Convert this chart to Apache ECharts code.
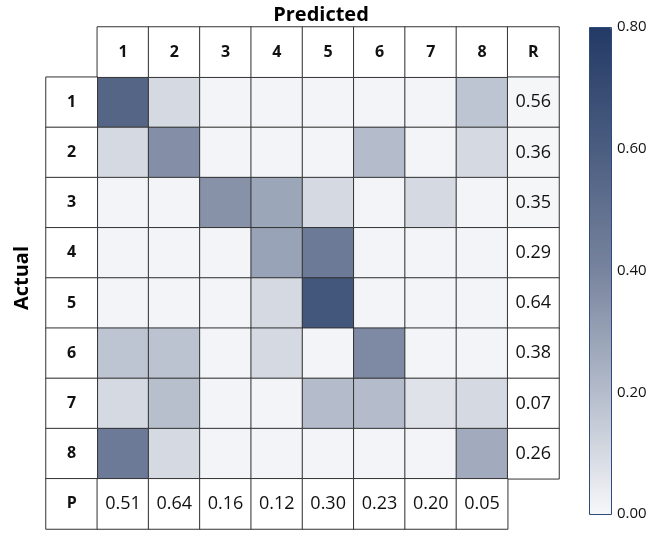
<!DOCTYPE html>
<html>
<head>
<meta charset="utf-8">
<script src="https://cdn.jsdelivr.net/npm/echarts@6/dist/echarts.min.js"></script>
<style>
  html, body { margin: 0; padding: 0; background: #fff; }
  #chart { width: 666px; height: 560px; }
</style>
</head>
<body>
<div id="chart"></div>
<script>
// classes on both axes
const classes = ['1', '2', '3', '4', '5', '6', '7', '8']
// confusion matrix, rows = actual, cols = predicted (read from cell shades)
const matrix = [
  [0.56, 0.10, 0.01, 0.01, 0.01, 0.01, 0.01, 0.17],
  [0.10, 0.36, 0.01, 0.01, 0.01, 0.20, 0.01, 0.10],
  [0.01, 0.01, 0.35, 0.28, 0.10, 0.01, 0.10, 0.01],
  [0.01, 0.01, 0.01, 0.29, 0.45, 0.01, 0.01, 0.01],
  [0.01, 0.01, 0.01, 0.10, 0.64, 0.01, 0.01, 0.01],
  [0.17, 0.18, 0.01, 0.10, 0.01, 0.38, 0.01, 0.01],
  [0.10, 0.19, 0.01, 0.01, 0.20, 0.20, 0.07, 0.10],
  [0.45, 0.10, 0.01, 0.01, 0.01, 0.01, 0.01, 0.26],
]
const recall = [0.56, 0.36, 0.35, 0.29, 0.64, 0.38, 0.07, 0.26]
const precision = [0.51, 0.64, 0.16, 0.12, 0.30, 0.23, 0.20, 0.05]
const scaleTicks = [0, 0.2, 0.4, 0.6, 0.8]

const FONT = 'Open Sans'
const cols = ['', ...classes, 'R']
const rows = ['', ...classes, 'P']

const cellData = []
matrix.forEach((row, r) => row.forEach((v, c) => cellData.push([c + 1, r + 1, v])))

const headData = []
classes.forEach((k, i) => {
  headData.push({ value: [i + 1, 0, 0], name: k })
  headData.push({ value: [0, i + 1, 0], name: k })
})
headData.push({ value: [9, 0, 0], name: 'R' })
headData.push({ value: [0, 9, 0], name: 'P' })

const recallData = recall.map((v, i) => ({
  value: [9, i + 1, v],
  itemStyle: { color: i < 3 ? '#f5f6f8' : '#ffffff' },
}))
const precData = precision.map((v, i) => [i + 1, 9, v])

const border = { borderColor: '#333', borderWidth: 1 }
const numLabel = {
  show: true,
  fontFamily: FONT,
  fontSize: 18,
  color: '#111',
  formatter: (p) => p.value[2].toFixed(2),
}

const mycharts = echarts.init(document.getElementById('chart'))
mycharts.setOption({
  animation: false,
  title: {
    text: 'Predicted',
    left: 316,
    top: 0,
    textAlign: 'center',
    textStyle: { fontFamily: FONT, fontSize: 20, fontWeight: 'bold', color: '#000' },
  },
  graphic: [
    {
      type: 'text',
      x: 22,
      y: 278,
      rotation: Math.PI / 2,
      style: {
        text: 'Actual',
        font: 'bold 20px "Open Sans"',
        fill: '#000',
        align: 'center',
        verticalAlign: 'middle',
      },
    },
    {
      type: 'rect',
      z: 100,
      shape: { x: 589.5, y: 27.5, width: 22, height: 487 },
      style: { fill: 'none', stroke: '#2f4b7c', lineWidth: 1 },
    },
  ],
  grid: [
    { left: 46, top: 27, width: 513, height: 502 },
    { left: 589, top: 27, width: 22, height: 487 },
  ],
  xAxis: [
    { type: 'category', gridIndex: 0, data: cols, show: false },
    { type: 'value', gridIndex: 1, show: false },
  ],
  yAxis: [
    { type: 'category', gridIndex: 0, data: rows, inverse: true, show: false },
    {
      type: 'value',
      gridIndex: 1,
      min: scaleTicks[0],
      max: scaleTicks[scaleTicks.length - 1],
      interval: 0.2,
      position: 'right',
      axisLine: { show: false },
      axisTick: { show: false },
      splitLine: { show: false },
      axisLabel: {
        margin: 6,
        fontFamily: FONT,
        fontSize: 15,
        color: '#111',
        formatter: (v) => v.toFixed(2),
      },
    },
  ],
  visualMap: {
    type: 'continuous',
    seriesIndex: 0,
    min: 0,
    max: 0.8,
    calculable: false,
    orient: 'vertical',
    left: 589,
    top: 27,
    padding: 0,
    itemWidth: 22,
    itemHeight: 487,
    text: ['', ''],
    showLabel: false,
    inRange: { color: ['#f6f7f9', '#b4bccb', '#78849e', '#4b5d80', '#233a66'] },
  },
  series: [
    {
      name: 'matrix',
      type: 'heatmap',
      data: cellData,
      itemStyle: border,
      label: { show: false },
      emphasis: { disabled: true },
    },
    {
      name: 'heads',
      type: 'heatmap',
      data: headData,
      itemStyle: { color: '#fff', ...border },
      label: {
        show: true,
        fontFamily: FONT,
        fontSize: 16,
        fontWeight: 'bold',
        color: '#111',
        formatter: (p) => p.name,
      },
      emphasis: { disabled: true },
    },
    {
      name: 'recall',
      type: 'heatmap',
      data: recallData,
      itemStyle: border,
      label: numLabel,
      emphasis: { disabled: true },
    },
    {
      name: 'precision',
      type: 'heatmap',
      data: precData,
      itemStyle: { color: '#fff', ...border },
      label: numLabel,
      emphasis: { disabled: true },
    },
  ],
})
</script>
</body>
</html>
